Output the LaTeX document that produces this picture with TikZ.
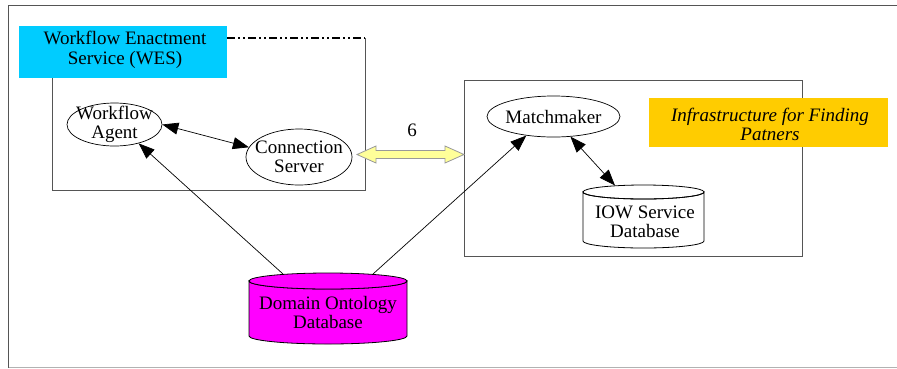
\documentclass[tikz,border=0pt]{standalone}
\usepackage{fontspec}
\setmainfont{Liberation Serif}
\usetikzlibrary{arrows.meta,calc,shapes.geometric}

\definecolor{wescyan}{HTML}{00CCFF}
\definecolor{infraorange}{HTML}{FFCC00}
\definecolor{dbmagenta}{HTML}{FF00FF}
\definecolor{pipeyellow}{HTML}{FFFF99}
\definecolor{framegray}{HTML}{555555}

\tikzset{
  txt/.style={font=\fontsize{19}{19.5}\selectfont, align=center, inner sep=0pt},
  oval/.style={ellipse, draw, line width=0.7pt, inner sep=0pt},
  boxline/.style={draw=framegray, line width=0.8pt},
  link/.style={line width=0.7pt, {Triangle[length=16pt,width=12pt]}-{Triangle[length=16pt,width=12pt]}},
  feed/.style={line width=0.7pt, -{Triangle[length=16pt,width=12pt]}},
  tag/.style={inner sep=0pt, font=\fontsize{19}{19.5}\selectfont, align=center}
}

\begin{document}
\begin{tikzpicture}[x=1pt,y=-1pt]
\useasboundingbox (0,0) rectangle (897,368);

% outer frame
\draw[draw=framegray, line width=1.2pt] (8.5,368) -- (8.5,5.5) -- (897,5.5);
\draw[draw=black!30, line width=1pt] (8.5,367) -- (897,367);

% WES box
\draw[boxline] (52,78) -- (52,190) -- (365,190) -- (365,38);
\draw[line width=1.8pt, dash pattern=on 8pt off 3pt on 2pt off 3pt on 2pt off 3pt]
  (227,38) -- (365,38);
\fill[wescyan] (19,26) rectangle (227,78);
\node[txt] (wes) at (125,50) {Workflow Enactment\\Service (WES)};

% infrastructure box
\draw[boxline] (464,80) rectangle (802,256);
\fill[infraorange] (649,98) rectangle (888,147);
\node[txt, font=\fontsize{19}{19.5}\selectfont\itshape] (infra) at (770,124.5)
  {Infrastructure for Finding\\Patners};

% ellipses
\node[oval, minimum width=95, minimum height=43] (wa) at (114.5,124.5) {};
\node[txt] at (wa) {Workflow\\Agent};
\node[oval, minimum width=106, minimum height=56] (cs) at (299,157) {};
\node[txt] at (cs) {Connection\\Server};
\node[oval, minimum width=133, minimum height=41] (mm) at (553.5,116.5) {};
\node[txt] at (mm) {Matchmaker};

% IOW service database cylinder
\path[fill=white, draw, line width=0.8pt] (583,192) -- (583,241)
  arc[start angle=180, end angle=0, x radius=60.5, y radius=7] -- (704,192)
  arc[start angle=0, end angle=180, x radius=60.5, y radius=7] -- cycle;
\draw[line width=0.8pt] (643.5,192) ellipse[x radius=60.5, y radius=7];
\node[txt] (iow) at (645,222) {IOW Service\\Database};
\coordinate (iowtop) at (615,185.5);

% domain ontology database cylinder
\path[fill=dbmagenta, draw, line width=0.8pt] (249,281) -- (249,336)
  arc[start angle=180, end angle=0, x radius=79, y radius=8] -- (407,281)
  arc[start angle=0, end angle=180, x radius=79, y radius=8] -- cycle;
\draw[fill=dbmagenta, line width=0.8pt] (328,281) ellipse[x radius=79, y radius=8];
\node[txt] (dod) at (328,312.5) {Domain Ontology\\Database};
\coordinate (dodl) at (283,274);
\coordinate (dodr) at (373,274);

% connectors
\draw[link] (wa.east) -- (cs.169);
\draw[link] (mm.-50) -- (iowtop);
\draw[feed] (dodl) -- (wa.-38);
\draw[feed] (dodr) -- (mm.-145);

% channel between the two systems
\coordinate (pl) at (357,154.5);
\coordinate (pr) at (464,154.5);
\path[fill=pipeyellow, draw=black!40, line width=0.8pt]
  (pl) -- ($(pl)+(19,-8.5)$) -- ($(pl)+(19,-4)$) -- ($(pr)+(-19,-4)$)
  -- ($(pr)+(-19,-8.5)$) -- (pr) -- ($(pr)+(-19,8.5)$) -- ($(pr)+(-19,4)$)
  -- ($(pl)+(19,4)$) -- ($(pl)+(19,8.5)$) -- cycle;
\node[tag] (six) at (412,130) {6};
\end{tikzpicture}
\end{document}
